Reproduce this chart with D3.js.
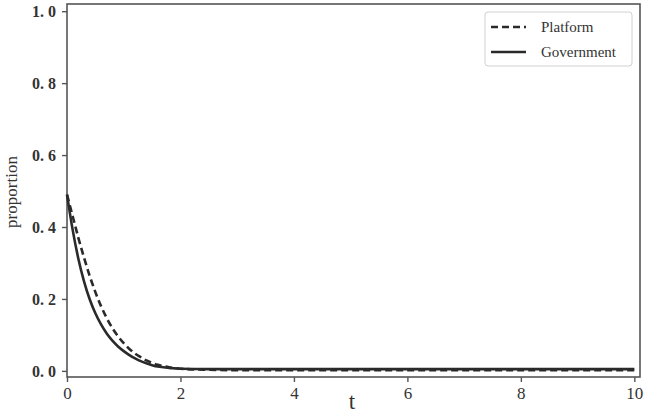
<!DOCTYPE html>
<html>
<head>
<meta charset="utf-8">
<script src="https://cdn.jsdelivr.net/npm/d3@7"></script>
<style>
  body { margin: 0; background: #fff; }
  svg text { font-family: "Liberation Serif", "DejaVu Serif", serif; fill: #333; }
</style>
</head>
<body>
<div id="chart"></div>
<script>
// values
var tValues = [0, 0.1, 0.2, 0.3, 0.4, 0.5, 0.6, 0.7, 0.8, 0.9, 1.0, 1.1, 1.2, 1.3, 1.4, 1.5,
  1.6, 1.7, 1.8, 1.9, 2.0, 2.5, 3, 4, 5, 6, 7, 8, 9, 10];
var platform = [0.49, 0.43, 0.37, 0.315, 0.264, 0.219, 0.18, 0.147, 0.119, 0.096, 0.077, 0.061,
  0.048, 0.038, 0.029, 0.022, 0.017, 0.013, 0.010, 0.008, 0.006, 0.003, 0.002, 0.002, 0.002,
  0.002, 0.002, 0.002, 0.002, 0.002];
var government = [0.49, 0.392, 0.312, 0.249, 0.199, 0.16, 0.129, 0.104, 0.084, 0.068, 0.055,
  0.044, 0.035, 0.027, 0.021, 0.016, 0.012, 0.010, 0.008, 0.007, 0.006, 0.005, 0.005, 0.005,
  0.005, 0.005, 0.005, 0.005, 0.005, 0.005];
var xTicks = [0, 2, 4, 6, 8, 10];
var yTicks = [0, 0.2, 0.4, 0.6, 0.8, 1.0];
var seriesNames = ['Platform', 'Government'];

var width = 645, height = 414;
var margin = {top: 4, right: 5, bottom: 37, left: 67};

var svg = d3.select('#chart').append('svg')
  .attr('width', width)
  .attr('height', height);

var x = d3.scaleLinear().domain([0, 10.1]).range([margin.left, width - margin.right]);
var y = d3.scaleLinear().domain([-0.017, 1.02]).range([height - margin.bottom, margin.top]);

// frame
svg.append('rect')
  .attr('x', margin.left)
  .attr('y', margin.top)
  .attr('width', width - margin.left - margin.right)
  .attr('height', height - margin.top - margin.bottom)
  .attr('fill', 'none')
  .attr('stroke', '#555')
  .attr('stroke-width', 1.6);

var xAxis = svg.append('g')
  .attr('transform', 'translate(0,' + (height - margin.bottom) + ')')
  .call(d3.axisBottom(x).tickValues(xTicks).tickSize(5).tickPadding(5).tickFormat(d3.format('d')));

var yAxis = svg.append('g')
  .attr('transform', 'translate(' + margin.left + ',0)')
  .call(d3.axisLeft(y).tickValues(yTicks).tickSize(5).tickPadding(6)
    .tickFormat(function (d) { return d3.format('.1f')(d).replace('.', '. '); }));

[xAxis, yAxis].forEach(function (g) {
  g.select('.domain').remove();
  g.selectAll('.tick line').attr('stroke', '#555').attr('stroke-width', 1.4);
  g.selectAll('.tick text').attr('font-size', 17).attr('fill', '#2a2a2a')
    .style('font-family', '"Liberation Serif", serif');
});
yAxis.selectAll('.tick text').attr('font-weight', 'bold').attr('font-size', 16);

// axis titles
svg.append('text')
  .attr('transform', 'translate(17,' + 192 + ')rotate(-90)')
  .attr('text-anchor', 'middle')
  .attr('font-size', 17)
  .text('proportion');

svg.append('text')
  .attr('x', 352)
  .attr('y', 409)
  .attr('text-anchor', 'middle')
  .attr('font-size', 23)
  .text('t');

var line = d3.line()
  .x(function (d) { return x(d[0]); })
  .y(function (d) { return y(d[1]); })
  .curve(d3.curveMonotoneX);

var series = [
  {name: seriesNames[0], values: platform, dash: '7,4'},
  {name: seriesNames[1], values: government, dash: null}
];

svg.selectAll('.series')
  .data(series)
  .enter().append('path')
  .attr('class', 'series')
  .attr('fill', 'none')
  .attr('stroke', '#2a2a2a')
  .attr('stroke-width', 2.6)
  .attr('stroke-dasharray', function (d) { return d.dash; })
  .attr('d', function (d) {
    return line(tValues.map(function (t, i) { return [t, d.values[i]]; }));
  });

// legend
var legend = svg.append('g').attr('transform', 'translate(485,12)');
legend.append('rect')
  .attr('width', 147)
  .attr('height', 54)
  .attr('rx', 3)
  .attr('fill', '#fff')
  .attr('stroke', '#d0d0d0');

var item = legend.selectAll('.item')
  .data(series)
  .enter().append('g')
  .attr('class', 'item')
  .attr('transform', function (d, i) { return 'translate(0,' + (15 + i * 25) + ')'; });

item.append('line')
  .attr('x1', 6).attr('x2', 41)
  .attr('stroke', '#2a2a2a')
  .attr('stroke-width', 2.6)
  .attr('stroke-dasharray', function (d) { return d.dash; });

item.append('text')
  .attr('x', 56)
  .attr('dy', '0.35em')
  .attr('font-size', 15)
  .text(function (d) { return d.name; });
</script>
</body>
</html>
